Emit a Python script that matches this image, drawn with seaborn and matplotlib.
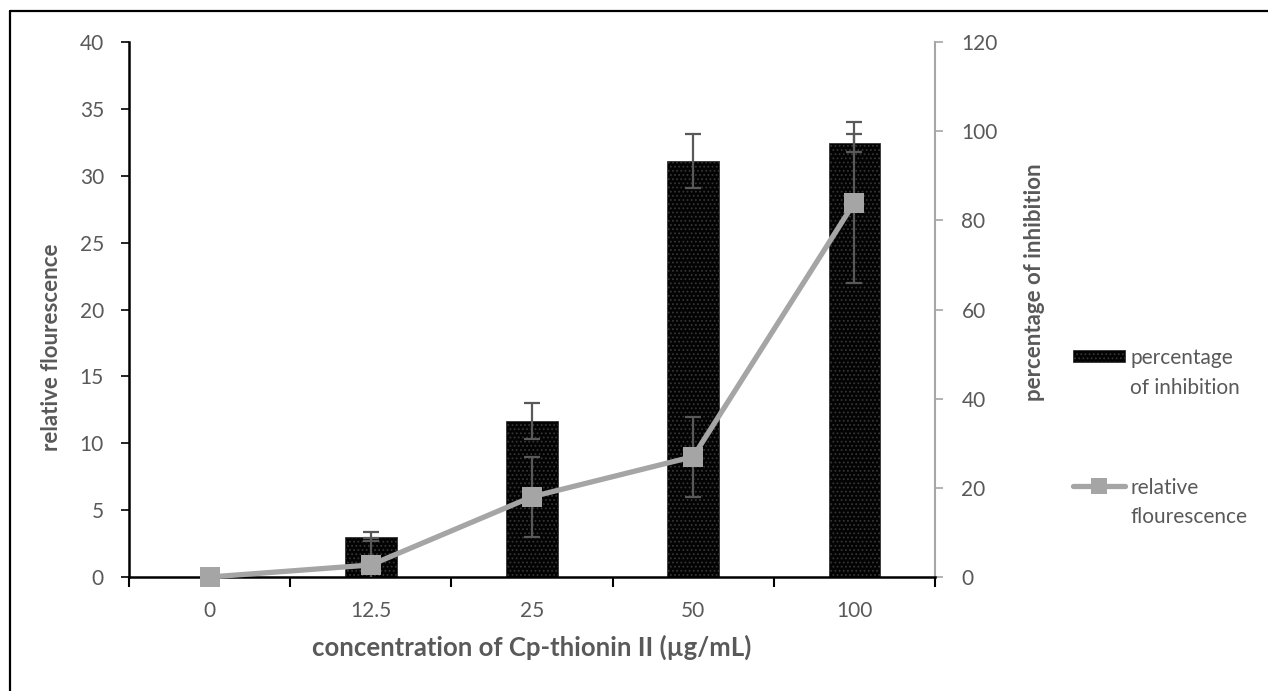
import matplotlib
matplotlib.use("Agg")
import matplotlib.pyplot as plt
import seaborn as sns
import numpy as np
import pandas as pd
from matplotlib.lines import Line2D
from matplotlib.patches import Patch, Rectangle
from matplotlib.legend_handler import HandlerPatch, HandlerLine2D

# ---- data ----
concentrations = ["0", "12.5", "25", "50", "100"]
inhibition = [0, 9, 35, 93.3, 97.4]          # percentage of inhibition (right axis)
inhibition_err = [0, 1, 4, 6, 2]
fluorescence = [0, 0.9, 6, 9, 28]            # relative flourescence (left axis)
fluorescence_err = [0, 2, 3, 3, 6]

sns.set_theme(style="white")
plt.rcParams['font.family'] = ['Lato', 'DejaVu Sans']
plt.rcParams['hatch.linewidth'] = 0.8

TXT = "#595959"
LINE_C = "#A5A5A5"
BAR_C = "#030303"
BAR_E = "#353535"

fig = plt.figure(figsize=(12.68, 6.91), dpi=100)
ax = fig.add_axes([129/1268, 1-577/691, (935-129)/1268, (577-42)/691])
ax_l = ax.twinx()

df = pd.DataFrame({"conc": concentrations, "inh": inhibition, "fl": fluorescence})

# bars on ax (drawn beneath), y axis shown on the right
sns.barplot(data=df, x="conc", y="inh", ax=ax, color=BAR_C, width=0.32,
            edgecolor=BAR_E, linewidth=0.6, hatch="....", saturation=1,
            errorbar=None, zorder=2)
pos = np.arange(len(concentrations))
ax.errorbar(pos[1:], inhibition[1:], yerr=inhibition_err[1:], fmt="none",
            ecolor=TXT, elinewidth=1.6, capsize=6, capthick=1.6, zorder=3)

# line on ax_l (left axis)
ax_l.errorbar(pos[1:], fluorescence[1:], yerr=fluorescence_err[1:], fmt="none",
              ecolor=TXT, elinewidth=1.6, capsize=6, capthick=1.6, zorder=1)
sns.lineplot(data=df, x="conc", y="fl", ax=ax_l, color=LINE_C, linewidth=3.8,
             marker="s", markersize=14.5, markeredgewidth=0, sort=False, zorder=3,
             clip_on=False)

# axes arrangement: primary (bars) y on right, twin (line) y on left
ax.yaxis.tick_right()
ax.yaxis.set_label_position("right")
ax_l.yaxis.tick_left()
ax_l.yaxis.set_label_position("left")

ax.set_ylim(0, 120)
ax.set_yticks(np.arange(0, 121, 20))
ax_l.set_ylim(0, 40)
ax_l.set_yticks(np.arange(0, 41, 5))
ax.set_xlim(-0.5, 4.5)

for a in (ax, ax_l):
    for s in a.spines.values():
        s.set_visible(False)
ax.spines["bottom"].set_visible(True)
ax.spines["bottom"].set_color("black")
ax.spines["bottom"].set_linewidth(1.8)
ax.spines["right"].set_visible(True)
ax.spines["right"].set_color("#A6A6A6")
ax.spines["right"].set_linewidth(1.5)
ax_l.spines["left"].set_visible(True)
ax_l.spines["left"].set_color("black")
ax_l.spines["left"].set_linewidth(1.8)

FS = 15
# x ticks: labels at centres, marks at boundaries
ax.set_xticks(pos)
ax.set_xticklabels(concentrations)
ax.set_xticks(np.arange(-0.5, 4.6, 1.0), minor=True)
ax.tick_params(axis="x", which="major", length=0, pad=17, labelsize=FS, labelcolor=TXT)
ax.tick_params(axis="x", which="minor", length=7, width=1.5, color="black", direction="out", bottom=True)
ax.tick_params(axis="y", which="major", length=6, width=1.2, color="#A6A6A6", direction="out",
               right=True, left=False, labelsize=FS, labelcolor=TXT, pad=13)
ax_l.tick_params(axis="y", which="major", length=6, width=1.2, color="black", direction="out",
                 left=True, right=False, labelsize=FS, labelcolor=TXT, pad=12)
ax_l.tick_params(axis="x", length=0)

ax.set_xlabel("concentration of Cp-thionin II (µg/mL)", fontsize=18.5, fontweight="bold", color=TXT)
ax.xaxis.set_label_coords(0.5, -0.108)
ax.set_ylabel("percentage of inhibition", fontsize=16, fontweight="bold", color=TXT, rotation=90)
ax.yaxis.set_label_coords((1024-129)/806, (577-282)/535)
ax_l.set_ylabel("relative flourescence", fontsize=16, fontweight="bold", color=TXT)
ax_l.yaxis.set_label_coords((62-129)/806, (577-347)/535)

ax.grid(False)
ax_l.grid(False)

LS = 1.6


# legend: handles aligned with the first line of each two-line label
class TopPatch(HandlerPatch):
    def create_artists(self, legend, orig_handle, xdescent, ydescent, width, height, fontsize, trans):
        h = 0.6 * fontsize
        yc = (height - ydescent) / 2 + 0.5 * LS * fontsize
        p = Rectangle((-xdescent, yc - h / 2), width, h)
        self.update_prop(p, orig_handle, legend)
        p.set_transform(trans)
        return [p]


class TopLine(HandlerLine2D):
    def create_artists(self, legend, orig_handle, xdescent, ydescent, width, height, fontsize, trans):
        arts = super().create_artists(legend, orig_handle, xdescent, ydescent, width, height, fontsize, trans)
        for a in arts:
            a.set_ydata(np.asarray(a.get_ydata()) + 0.5 * LS * fontsize)
        return arts


bar_handle = Patch(facecolor=BAR_C, edgecolor=BAR_E, hatch="....", linewidth=0.6)
line_handle = Line2D([0], [0], color=LINE_C, linewidth=3.8, marker="s", markersize=12, markeredgewidth=0)
labels = ["percentage\nof inhibition", "relative\nflourescence"]
leg = fig.legend([bar_handle, line_handle], labels, loc="upper left",
                 bbox_to_anchor=(1073/1268, 1-348/691),
                 frameon=False, fontsize=FS, labelcolor=TXT, handlelength=2.5,
                 handleheight=1.0, handletextpad=0.25, labelspacing=3.85, borderaxespad=0,
                 borderpad=0, handler_map={Patch: TopPatch(), Line2D: TopLine()})
for t in leg.get_texts():
    t.set_linespacing(LS)
if ax.get_legend():
    ax.get_legend().remove()
if ax_l.get_legend():
    ax_l.get_legend().remove()

# outer frame (top and left edges)
fig.add_artist(Line2D([10/1268, 10/1268], [0, 1-11/691], transform=fig.transFigure, color="black", linewidth=1.6))
fig.add_artist(Line2D([10/1268, 1], [1-11/691, 1-11/691], transform=fig.transFigure, color="black", linewidth=1.6))

fig.savefig("out.png", dpi=100)
